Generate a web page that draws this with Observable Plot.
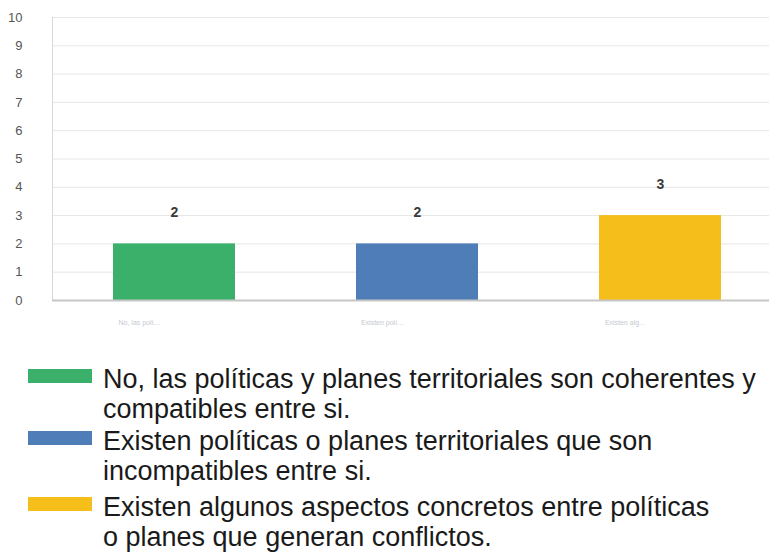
<!DOCTYPE html>
<html>
<head>
<meta charset="utf-8">
<script src="https://cdn.jsdelivr.net/npm/d3@7"></script>
<script src="https://cdn.jsdelivr.net/npm/@observablehq/plot@0.6"></script>
<style>
  body { margin: 0; background: #fff; font-family: "Liberation Sans", Arial, sans-serif; }
  #chart { width: 769px; height: 345px; overflow: hidden; }
  #chart svg { max-width: none !important; }
  #legend { margin-top: 19px; }
  .item { display: flex; align-items: flex-start; }
  .sw { width: 64px; height: 14px; margin-left: 28px; margin-right: 11px; margin-top: 5px; flex: none; }
  .txt { font-size: 27px; line-height: 30px; color: #1a1a1a; white-space: nowrap; }
</style>
</head>
<body>
<div id="chart"></div>
<div id="legend"></div>
<script>
const categories = [
  "No, las políticas y planes territoriales son coherentes y compatibles entre si.",
  "Existen políticas o planes territoriales que son incompatibles entre si.",
  "Existen algunos aspectos concretos entre políticas o planes que generan conflictos."
];
const values = [2, 2, 3];
const colors = ["#3bb06b", "#4f7db8", "#f6be1a"];
const shortLabels = ["No, las polí…", "Existen polí…", "Existen alg…"];
const legendLines = [
  ["No, las políticas y planes territoriales son coherentes y", "compatibles entre si."],
  ["Existen políticas o planes territoriales que son", "incompatibles entre si."],
  ["Existen algunos aspectos concretos entre políticas", "o planes que generan conflictos."]
];
const yTicks = [0,1,2,3,4,5,6,7,8,9,10];
const itemGaps = [2, 6, 0];

const data = categories.map((c, i) => ({cat: c, value: values[i], color: colors[i], short: shortLabels[i]}));

const chart = Plot.plot({
  width: 790,
  height: 345,
  marginTop: 17,
  marginBottom: 45,
  marginLeft: 52,
  marginRight: 9,
  style: {fontFamily: "'Liberation Sans', Arial, sans-serif", background: "#fff", maxWidth: "none"},
  x: {domain: categories, paddingInner: 0.5, paddingOuter: 0.25, label: null},
  y: {domain: [0, 10], label: null},
  marks: [
    Plot.gridY(yTicks, {stroke: "#e6e6e6", strokeOpacity: 1, strokeWidth: 1}),
    Plot.frame({anchor: "left", stroke: "#d8d8d8"}),
    Plot.axisY(yTicks, {tickSize: 0, tickPadding: 30, fontSize: 13, fill: "#555", label: null, tickFormat: d => String(d)}),
    Plot.axisX({tickSize: 0, tickPadding: 20, fontSize: 7, fill: "#c5c9d1", label: null, tickFormat: d => shortLabels[categories.indexOf(d)], dx: -35}),
    Plot.barY(data, {x: "cat", y: "value", fill: "color"}),
    Plot.ruleY([0], {stroke: "#c6c6c6", strokeWidth: 2}),
    Plot.text(data, {x: "cat", y: "value", text: d => String(d.value), dy: -31, fontSize: 14, fontWeight: "bold", fill: "#3a3a3a"})
  ]
});
document.getElementById("chart").appendChild(chart);

const legend = document.getElementById("legend");
legendLines.forEach((lines, i) => {
  const item = document.createElement("div");
  item.className = "item";
  item.style.marginBottom = itemGaps[i] + "px";
  const sw = document.createElement("div");
  sw.className = "sw";
  sw.style.background = colors[i];
  const txt = document.createElement("div");
  txt.className = "txt";
  lines.forEach((l, j) => {
    if (j) txt.appendChild(document.createElement("br"));
    txt.appendChild(document.createTextNode(l));
  });
  item.appendChild(sw);
  item.appendChild(txt);
  legend.appendChild(item);
});
</script>
</body>
</html>
